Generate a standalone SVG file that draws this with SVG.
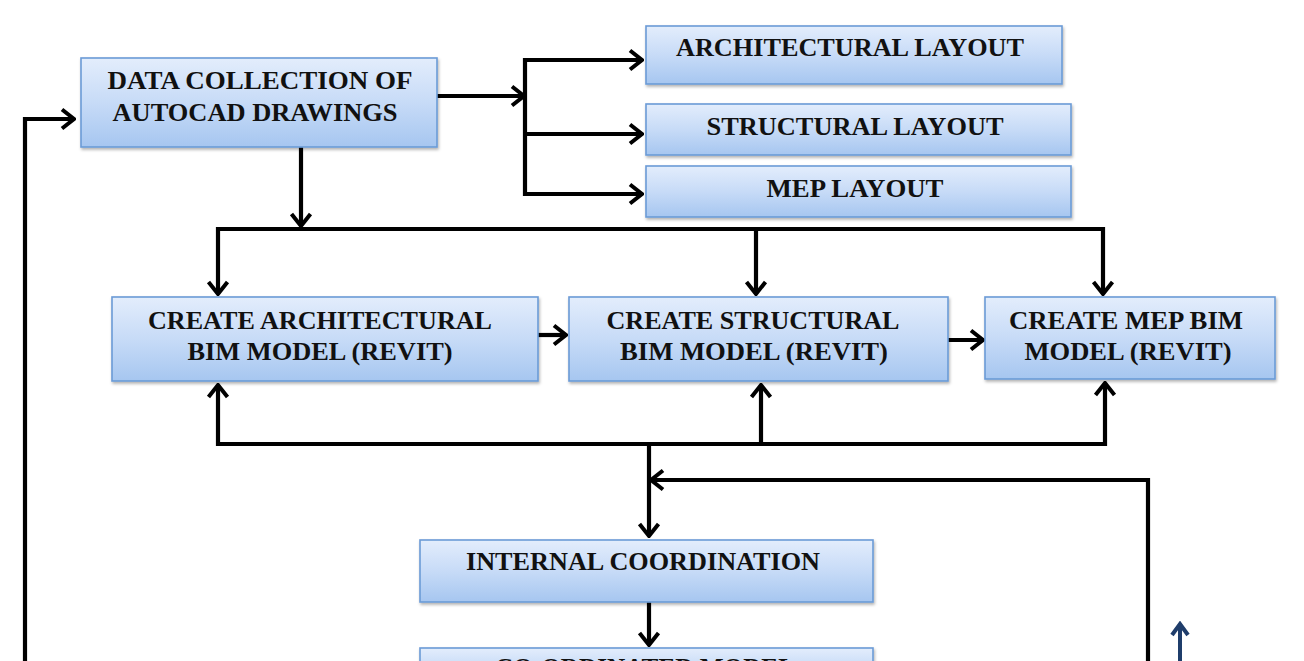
<svg xmlns="http://www.w3.org/2000/svg" width="1304" height="661" viewBox="0 0 1304 661">
<defs>
<linearGradient id="g" x1="0" y1="0" x2="0" y2="1">
<stop offset="0" stop-color="#e3edfc"/>
<stop offset="0.5" stop-color="#c7dbf7"/>
<stop offset="1" stop-color="#a6c6f0"/>
</linearGradient>
<filter id="sh" x="-5%" y="-10%" width="110%" height="130%">
<feDropShadow dx="1" dy="2" stdDeviation="1.5" flood-color="#000" flood-opacity="0.3"/>
</filter>
<marker id="ah" viewBox="0 0 16 24" refX="14" refY="12" markerWidth="16" markerHeight="24" markerUnits="userSpaceOnUse" orient="auto">
<path d="M2,2.5 L14,12 L2,21.5" fill="none" stroke="#000" stroke-width="4" stroke-linejoin="miter"/>
</marker>
<marker id="ahb" viewBox="0 0 16 22" refX="13" refY="11" markerWidth="16" markerHeight="22" markerUnits="userSpaceOnUse" orient="auto">
<path d="M2,3 L13,11 L2,19" fill="none" stroke="#1f3d6b" stroke-width="4"/>
</marker>
</defs>
<style>
.box{fill:url(#g);stroke:#6b9bd6;stroke-width:1.6;filter:url(#sh)}
.t{font-family:"Liberation Serif","Times New Roman",serif;font-weight:bold;font-size:26px;fill:#111;text-anchor:middle}
.c{fill:none;stroke:#000;stroke-width:4.2}
.a{marker-end:url(#ah)}
</style>
<rect width="1304" height="661" fill="#fff"/>

<g id="connectors">
<line class="c a" x1="437" y1="96" x2="524" y2="96"/>
<line class="c" x1="525" y1="58" x2="525" y2="196"/>
<line class="c a" x1="523" y1="60" x2="642" y2="60"/>
<line class="c a" x1="523" y1="134" x2="642" y2="134"/>
<line class="c a" x1="523" y1="194" x2="642" y2="194"/>
<line class="c a" x1="301" y1="147" x2="301" y2="226"/>
<line class="c" x1="216" y1="229" x2="1105" y2="229"/>
<line class="c a" x1="218" y1="227" x2="218" y2="294"/>
<line class="c a" x1="756" y1="229" x2="756" y2="294"/>
<line class="c a" x1="1103" y1="227" x2="1103" y2="294"/>
<line class="c a" x1="538" y1="335" x2="566" y2="335"/>
<line class="c a" x1="948" y1="340" x2="983" y2="340"/>
<line class="c" x1="216" y1="444" x2="1107" y2="444"/>
<line class="c a" x1="218" y1="446" x2="218" y2="385"/>
<line class="c a" x1="761" y1="444" x2="761" y2="385"/>
<line class="c a" x1="1105" y1="446" x2="1105" y2="383"/>
<line class="c a" x1="649" y1="444" x2="649" y2="536"/>
<path class="c a" d="M1148,661 V480 H651"/>
<line class="c a" x1="649" y1="602" x2="649" y2="645"/>
<path class="c a" d="M25,661 V119 H74"/>
<line x1="1180" y1="661" x2="1180" y2="624" stroke="#1f3d6b" stroke-width="4" marker-end="url(#ahb)"/>
</g>

<g id="data-collection">
<rect class="box" x="81" y="58" width="356" height="89"/>
<text class="t" x="260" y="89" textLength="305" lengthAdjust="spacingAndGlyphs">DATA COLLECTION OF</text>
<text class="t" x="255" y="121" textLength="285" lengthAdjust="spacingAndGlyphs">AUTOCAD DRAWINGS</text>
</g>

<g id="architectural-layout">
<rect class="box" x="646" y="26" width="416" height="58"/>
<text class="t" x="850" y="56" textLength="348" lengthAdjust="spacingAndGlyphs">ARCHITECTURAL LAYOUT</text>
</g>

<g id="structural-layout">
<rect class="box" x="646" y="104" width="425" height="51"/>
<text class="t" x="855" y="135" textLength="297" lengthAdjust="spacingAndGlyphs">STRUCTURAL LAYOUT</text>
</g>

<g id="mep-layout">
<rect class="box" x="646" y="166" width="425" height="51"/>
<text class="t" x="855" y="197" textLength="177" lengthAdjust="spacingAndGlyphs">MEP LAYOUT</text>
</g>

<g id="create-architectural">
<rect class="box" x="112" y="297" width="426" height="84"/>
<text class="t" x="320" y="329" textLength="344" lengthAdjust="spacingAndGlyphs">CREATE ARCHITECTURAL</text>
<text class="t" x="320" y="360" textLength="265" lengthAdjust="spacingAndGlyphs">BIM MODEL (REVIT)</text>
</g>

<g id="create-structural">
<rect class="box" x="569" y="297" width="379" height="84"/>
<text class="t" x="753" y="329" textLength="293" lengthAdjust="spacingAndGlyphs">CREATE STRUCTURAL</text>
<text class="t" x="754" y="360" textLength="268" lengthAdjust="spacingAndGlyphs">BIM MODEL (REVIT)</text>
</g>

<g id="create-mep">
<rect class="box" x="985" y="297" width="290" height="82"/>
<text class="t" x="1126" y="329" textLength="234" lengthAdjust="spacingAndGlyphs">CREATE MEP BIM</text>
<text class="t" x="1128" y="360" textLength="207" lengthAdjust="spacingAndGlyphs">MODEL (REVIT)</text>
</g>

<g id="internal-coordination">
<rect class="box" x="420" y="540" width="453" height="62"/>
<text class="t" x="643" y="570" textLength="354" lengthAdjust="spacingAndGlyphs">INTERNAL COORDINATION</text>
</g>

<g id="coordinated-model">
<rect class="box" x="420" y="648" width="453" height="40"/>
<text class="t" x="645" y="676" textLength="300" lengthAdjust="spacingAndGlyphs">CO-ORDINATED MODEL</text>
</g>
</svg>
